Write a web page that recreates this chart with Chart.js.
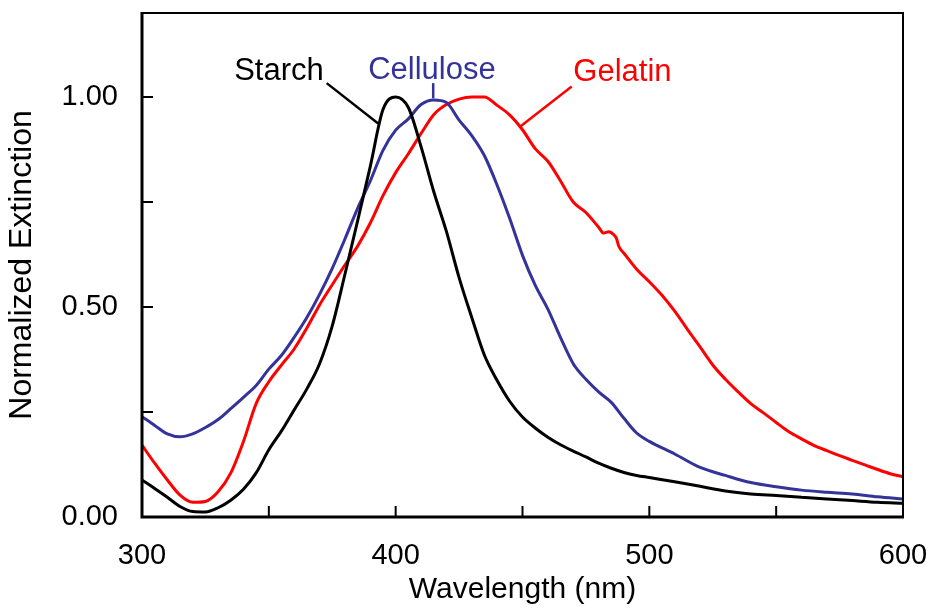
<!DOCTYPE html>
<html lang="en">
<head>
<meta charset="UTF-8">
<title>Normalized Extinction</title>
<script src="https://cdn.jsdelivr.net/npm/chart.js"></script>
<style>
  html, body { margin: 0; padding: 0; background: #fff; }
</style>
</head>
<body>
<canvas id="chart" width="929" height="613"></canvas>
<script>
  // wavelength grid (nm) shared by starch and cellulose
  const wavelengths = [300, 305, 310, 315, 320, 325, 330, 335, 340, 345, 350, 355, 360, 365, 370, 375, 380, 385, 390, 395,
    400, 405, 410, 415, 420, 425, 430, 435, 440, 445, 450, 455, 460, 465, 470, 475, 480, 485, 490, 495, 500,
    510, 520, 530, 540, 550, 560, 570, 580, 590, 600];
  const starch = [0.088, 0.068, 0.047, 0.025, 0.013, 0.012, 0.022, 0.040, 0.066, 0.105, 0.160, 0.205, 0.255, 0.305, 0.365, 0.455, 0.578, 0.705, 0.835, 0.970,
    1.000, 0.975, 0.882, 0.775, 0.680, 0.570, 0.475, 0.385, 0.325, 0.275, 0.238, 0.212, 0.190, 0.172, 0.157, 0.143, 0.128, 0.116, 0.106, 0.099, 0.094,
    0.084, 0.073, 0.062, 0.055, 0.051, 0.047, 0.043, 0.039, 0.035, 0.033];
  const cellulose = [0.239, 0.218, 0.198, 0.191, 0.198, 0.213, 0.232, 0.258, 0.285, 0.313, 0.352, 0.385, 0.428, 0.475, 0.530, 0.592, 0.662, 0.735, 0.800, 0.873,
    0.921, 0.948, 0.982, 0.993, 0.987, 0.945, 0.908, 0.860, 0.790, 0.710, 0.623, 0.552, 0.495, 0.427, 0.365, 0.328, 0.298, 0.273, 0.235, 0.200, 0.180,
    0.150, 0.118, 0.099, 0.082, 0.072, 0.064, 0.059, 0.055, 0.048, 0.043];

  // gelatin has a few extra points around the little step near 485 nm
  const gelatinWl = [300, 305, 310, 315, 320, 325, 330, 335, 340, 345, 350, 355, 360, 365, 370, 375, 380, 385, 390, 395,
    400, 405, 410, 415, 420, 425, 430, 435, 440, 445, 450, 455, 460, 465, 470, 475, 480, 482, 484, 486, 487, 488, 490,
    495, 500, 505, 510, 515, 520, 525, 530, 535, 540, 545, 550, 555, 560, 565, 570, 575, 580, 585, 590, 595, 600];
  const gelatin = [0.171, 0.128, 0.088, 0.052, 0.035, 0.037, 0.060, 0.105, 0.180, 0.270, 0.322, 0.362, 0.400, 0.450, 0.505, 0.553, 0.600, 0.645, 0.700, 0.765,
    0.820, 0.865, 0.913, 0.958, 0.982, 0.995, 1.000, 1.000, 0.980, 0.957, 0.922, 0.877, 0.847, 0.800, 0.750, 0.725, 0.690, 0.676, 0.679, 0.672, 0.664, 0.644, 0.628,
    0.590, 0.560, 0.528, 0.490, 0.447, 0.405, 0.362, 0.328, 0.298, 0.270, 0.248, 0.225, 0.203, 0.186, 0.170, 0.158, 0.146, 0.135, 0.124, 0.113, 0.103, 0.096];

  const xTicks = [300, 350, 400, 450, 500, 550, 600];
  const xLabelled = [300, 400, 500, 600];
  const yTicks = [0, 0.25, 0.5, 0.75, 1.0];
  const yLabelled = [0, 0.5, 1.0];

  const names = ['Starch', 'Cellulose', 'Gelatin'];
  const colors = ['#000000', '#333399', '#ff0000'];
  // label centre and leader line, in data units (nm, extinction)
  const labelAt = [[354, 1.062], [414.3, 1.064], [489.4, 1.058]];
  const leaders = [[[372.8, 1.033], [393.1, 0.937]], [[414.8, 1.033], [414.8, 0.997]], [[469.4, 1.025], [449.0, 0.929]]];

  const FONT = "'Liberation Sans', Arial, sans-serif";
  const pts = (xs, ys) => xs.map((x, i) => ({ x: x, y: ys[i] }));

  // frame, inward ticks, series labels
  const decorations = {
    id: 'decorations',
    afterDatasetsDraw(chart) {
      const { ctx, chartArea: a, scales: { x, y } } = chart;
      ctx.save();
      ctx.strokeStyle = '#000';
      ctx.lineWidth = 2;
      ctx.beginPath();
      xTicks.forEach(v => { const px = x.getPixelForValue(v); ctx.moveTo(px, a.bottom); ctx.lineTo(px, a.bottom - 11); });
      yTicks.forEach(v => { const py = y.getPixelForValue(v); ctx.moveTo(a.left, py); ctx.lineTo(a.left + 11, py); });
      ctx.stroke();
      ctx.beginPath();
      ctx.moveTo(a.left, a.top); ctx.lineTo(a.right, a.top); ctx.lineTo(a.right, a.bottom);
      ctx.stroke();
      ctx.lineWidth = 3;
      ctx.beginPath();
      ctx.moveTo(a.left, a.top - 1); ctx.lineTo(a.left, a.bottom); ctx.lineTo(a.right + 1, a.bottom);
      ctx.stroke();

      ctx.font = '31px ' + FONT;
      ctx.textAlign = 'center';
      ctx.textBaseline = 'middle';
      ctx.lineWidth = 2.5;
      names.forEach((n, i) => {
        ctx.fillStyle = colors[i];
        ctx.strokeStyle = colors[i];
        ctx.fillText(n, x.getPixelForValue(labelAt[i][0]), y.getPixelForValue(labelAt[i][1]));
        const [p, q] = leaders[i];
        ctx.beginPath();
        ctx.moveTo(x.getPixelForValue(p[0]), y.getPixelForValue(p[1]));
        ctx.lineTo(x.getPixelForValue(q[0]), y.getPixelForValue(q[1]));
        ctx.stroke();
      });
      ctx.restore();
    }
  };

  new Chart(document.getElementById('chart'), {
    type: 'line',
    data: {
      datasets: [
        { label: names[0], data: pts(wavelengths, starch), borderColor: colors[0] },
        { label: names[1], data: pts(wavelengths, cellulose), borderColor: colors[1] },
        { label: names[2], data: pts(gelatinWl, gelatin), borderColor: colors[2] }
      ]
    },
    options: {
      responsive: false,
      animation: false,
      devicePixelRatio: 1,
      layout: { padding: { top: 13, right: 26, left: 0, bottom: 0 } },
      elements: {
        point: { radius: 0 },
        line: { borderWidth: 3, cubicInterpolationMode: 'monotone', fill: false }
      },
      plugins: { legend: { display: false }, tooltip: { enabled: false } },
      scales: {
        x: {
          type: 'linear', min: 300, max: 600,
          afterFit: s => { s.height = 96; s.paddingLeft = 0; s.paddingRight = 0; },
          afterBuildTicks: s => { s.ticks = xTicks.map(v => ({ value: v })); },
          grid: { display: false, drawTicks: false },
          border: { display: false },
          ticks: {
            autoSkip: false, maxRotation: 0, padding: 22, color: '#000',
            font: { family: FONT, size: 29 },
            callback: v => xLabelled.includes(v) ? String(v) : ''
          },
          title: {
            display: true, text: 'Wavelength (nm)', color: '#000',
            font: { family: FONT, size: 30, lineHeight: 1.0 }, padding: { bottom: 8 }
          }
        },
        y: {
          type: 'linear', min: 0, max: 1.2,
          afterFit: s => { s.width = 142; s.paddingTop = 0; s.paddingBottom = 0; },
          afterBuildTicks: s => { s.ticks = yTicks.map(v => ({ value: v })); },
          grid: { display: false, drawTicks: false },
          border: { display: false },
          ticks: {
            autoSkip: false, padding: 24, color: '#000',
            font: { family: FONT, size: 29 },
            callback: v => yLabelled.includes(v) ? v.toFixed(2) : ''
          },
          title: {
            display: true, text: 'Normalized Extinction', color: '#000',
            font: { family: FONT, size: 32, lineHeight: 1.0 }, padding: { top: 6 }
          }
        }
      }
    },
    plugins: [decorations]
  });
</script>
</body>
</html>
